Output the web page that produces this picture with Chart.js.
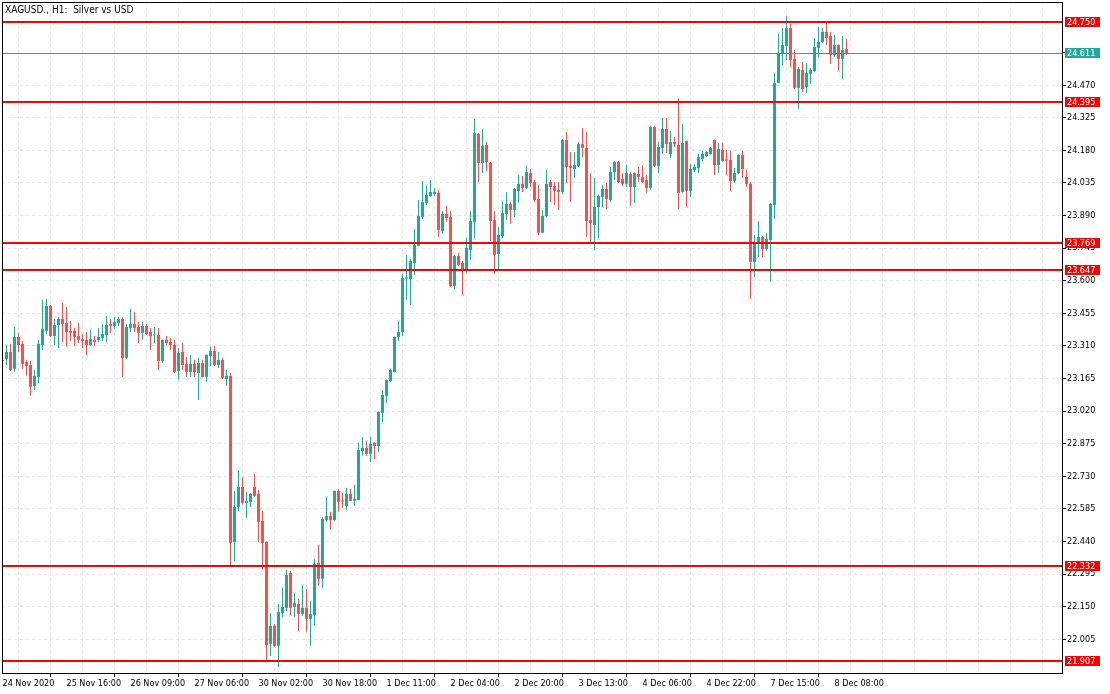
<!DOCTYPE html>
<html><head><meta charset="utf-8">
<script src="https://cdn.jsdelivr.net/npm/chart.js@4.4.1/dist/chart.umd.min.js"></script>
<style>html,body{margin:0;padding:0;background:#fff;overflow:hidden}canvas{display:block}</style>
</head><body>
<canvas id="c" width="1110" height="694"></canvas>
<script>
const chartTitle = "XAGUSD., H1:  Silver vs USD";
const timeLabels = ["24 Nov 2020","25 Nov 16:00","26 Nov 09:00","27 Nov 06:00","30 Nov 02:00","30 Nov 18:00","1 Dec 11:00","2 Dec 04:00","2 Dec 20:00","3 Dec 13:00","4 Dec 06:00","4 Dec 22:00","7 Dec 15:00","8 Dec 08:00"];
const yTickValues = [22.005,22.150,22.295,22.440,22.585,22.730,22.875,23.020,23.165,23.310,23.455,23.600,23.745,23.890,24.035,24.180,24.325,24.470,24.615];
const levels = [24.750,24.395,23.769,23.647,22.332,21.907];
const lastPrice = 24.611;

const opens = [23.245,23.252,23.283,23.208,23.350,23.319,23.239,23.225,23.132,23.172,
23.314,23.377,23.488,23.354,23.403,23.430,23.412,23.377,23.377,23.354,
23.341,23.337,23.314,23.337,23.337,23.346,23.359,23.408,23.399,23.412,
23.430,23.257,23.390,23.408,23.394,23.368,23.399,23.372,23.357,23.359,
23.243,23.337,23.328,23.314,23.199,23.283,23.230,23.194,23.230,23.190,
23.234,23.172,23.265,23.288,23.225,23.248,23.163,23.177,22.438,22.594,
22.683,22.612,22.616,22.683,22.652,22.532,22.438,21.985,22.065,21.976,
22.122,22.145,22.300,22.149,22.162,22.118,22.145,22.096,22.113,22.345,
22.274,22.536,22.554,22.536,22.665,22.623,22.598,22.652,22.621,22.625,
22.843,22.856,22.830,22.879,22.865,23.012,23.088,23.154,23.194,23.350,
23.372,23.610,23.608,23.679,23.755,23.884,23.946,23.977,23.986,23.991,
23.822,23.897,23.884,23.577,23.710,23.679,23.648,23.737,23.862,24.253,
24.124,24.204,24.124,23.870,23.719,23.799,23.897,23.942,23.915,23.999,
24.031,24.013,24.079,24.039,23.964,23.813,23.888,24.039,24.022,24.004,
23.995,24.226,24.111,24.097,24.111,24.208,24.191,23.870,23.848,23.928,
23.973,24.008,23.959,24.084,24.128,24.053,24.031,24.075,24.017,24.075,
24.062,24.048,24.013,24.284,24.111,24.191,24.275,24.164,24.217,24.204,
23.995,24.222,24.000,24.093,24.102,24.142,24.155,24.164,24.226,24.115,
24.182,24.137,24.137,24.044,24.079,24.160,24.062,24.031,23.684,23.768,
23.795,23.741,23.781,23.937,24.480,24.609,24.644,24.724,24.587,24.458,
24.538,24.462,24.520,24.533,24.636,24.662,24.707,24.689,24.604,24.649,
24.587,24.631];
const highs = [23.250,23.314,23.319,23.394,23.368,23.332,23.248,23.243,23.203,23.337,
23.515,23.519,23.492,23.430,23.439,23.501,23.483,23.421,23.390,23.412,
23.363,23.372,23.381,23.354,23.390,23.408,23.443,23.430,23.439,23.439,
23.439,23.408,23.475,23.461,23.417,23.417,23.408,23.390,23.394,23.390,
23.339,23.354,23.346,23.337,23.301,23.323,23.261,23.270,23.248,23.257,
23.248,23.272,23.306,23.310,23.283,23.257,23.203,23.190,22.665,22.758,
22.727,22.661,22.656,22.741,22.670,22.576,22.440,22.122,22.073,22.162,
22.234,22.314,22.309,22.211,22.185,22.247,22.229,22.176,22.363,22.425,
22.549,22.638,22.572,22.667,22.674,22.656,22.678,22.674,22.692,22.879,
22.905,22.887,22.905,22.883,23.018,23.114,23.161,23.208,23.352,23.421,
23.630,23.715,23.697,23.830,23.959,24.044,24.022,24.048,24.013,24.004,
23.910,23.933,23.910,23.715,23.724,23.688,23.790,23.910,24.320,24.257,
24.275,24.217,24.128,23.910,23.839,23.955,23.995,23.951,24.013,24.071,
24.066,24.111,24.097,24.048,24.026,23.915,24.093,24.048,24.039,24.039,
24.231,24.262,24.173,24.173,24.217,24.280,24.262,24.079,24.057,23.982,
24.026,24.035,24.106,24.133,24.133,24.079,24.115,24.084,24.081,24.106,
24.115,24.071,24.289,24.289,24.217,24.324,24.324,24.266,24.240,24.409,
24.297,24.224,24.120,24.120,24.164,24.177,24.177,24.195,24.228,24.213,
24.213,24.182,24.177,24.102,24.162,24.177,24.093,24.039,23.804,23.866,
23.799,23.813,23.946,24.524,24.698,24.724,24.778,24.742,24.627,24.551,
24.573,24.569,24.547,24.680,24.729,24.724,24.747,24.707,24.693,24.651,
24.689,24.676];
const lows = [23.238,23.225,23.198,23.195,23.283,23.208,23.177,23.088,23.114,23.145,
23.292,23.363,23.350,23.314,23.301,23.328,23.306,23.332,23.310,23.323,
23.301,23.270,23.310,23.310,23.328,23.332,23.328,23.368,23.386,23.399,
23.172,23.252,23.372,23.372,23.323,23.337,23.359,23.292,23.323,23.203,
23.234,23.314,23.292,23.190,23.159,23.203,23.172,23.172,23.172,23.070,
23.170,23.150,23.221,23.221,23.212,23.163,23.132,22.335,22.354,22.576,
22.603,22.545,22.594,22.638,22.438,22.318,21.904,21.931,21.971,21.882,
22.105,22.131,22.113,22.105,22.042,22.109,22.038,21.976,22.065,22.243,
22.234,22.527,22.492,22.532,22.572,22.589,22.581,22.620,22.598,22.623,
22.821,22.821,22.794,22.807,22.838,22.972,23.056,23.150,23.192,23.332,
23.354,23.515,23.492,23.626,23.753,23.875,23.937,23.973,23.977,23.795,
23.808,23.862,23.572,23.563,23.666,23.537,23.635,23.692,23.790,24.039,
24.079,24.088,23.777,23.630,23.648,23.790,23.870,23.853,23.884,23.946,
23.995,24.008,24.017,23.950,23.804,23.811,23.884,23.950,23.937,23.915,
23.986,24.035,23.950,24.057,24.106,24.151,23.795,23.773,23.737,23.790,
23.928,23.919,23.950,24.048,24.035,24.022,24.017,23.933,23.946,24.039,
24.035,23.991,24.004,24.106,24.079,24.164,24.168,24.146,24.195,23.919,
23.991,23.928,23.973,24.084,24.079,24.133,24.151,24.162,24.071,24.079,
24.128,24.071,23.999,24.035,24.075,24.057,24.017,23.519,23.617,23.706,
23.706,23.733,23.595,23.875,24.478,24.560,24.582,24.551,24.453,24.364,
24.440,24.435,24.475,24.529,24.595,24.658,24.649,24.564,24.595,24.533,
24.498,24.604];
const closes = [23.243,23.283,23.203,23.350,23.314,23.230,23.221,23.128,23.177,23.319,
23.386,23.488,23.354,23.403,23.430,23.408,23.372,23.368,23.350,23.337,
23.332,23.314,23.341,23.328,23.350,23.363,23.403,23.399,23.417,23.430,
23.257,23.394,23.408,23.390,23.368,23.399,23.363,23.354,23.359,23.243,
23.337,23.323,23.314,23.194,23.279,23.225,23.194,23.230,23.194,23.234,
23.172,23.270,23.288,23.225,23.248,23.168,23.177,22.434,22.594,22.683,
22.612,22.621,22.652,22.643,22.527,22.434,21.980,22.065,21.976,22.127,
22.149,22.291,22.145,22.167,22.118,22.145,22.096,22.118,22.340,22.274,
22.541,22.554,22.536,22.665,22.616,22.618,22.652,22.621,22.630,22.847,
22.856,22.830,22.874,22.865,23.016,23.092,23.159,23.203,23.350,23.372,
23.612,23.612,23.688,23.759,23.888,23.950,23.982,23.995,23.995,23.826,
23.897,23.879,23.577,23.710,23.670,23.648,23.746,23.866,24.257,24.124,
24.200,24.128,23.866,23.715,23.804,23.902,23.942,23.915,24.008,24.031,
24.013,24.084,24.035,23.959,23.813,23.888,24.031,24.017,24.000,23.995,
24.226,24.106,24.102,24.115,24.208,24.191,23.866,23.857,23.928,23.977,
24.008,23.964,24.084,24.128,24.039,24.031,24.079,24.017,24.079,24.062,
24.039,24.013,24.284,24.111,24.195,24.275,24.208,24.217,24.208,23.991,
24.213,24.000,24.097,24.106,24.151,24.164,24.173,24.191,24.115,24.186,
24.133,24.135,24.044,24.079,24.160,24.097,24.031,23.684,23.768,23.795,
23.741,23.786,23.942,24.480,24.609,24.649,24.724,24.582,24.458,24.542,
24.453,24.524,24.538,24.640,24.662,24.707,24.680,24.604,24.649,24.587,
24.627,24.611];

const UP = '#26a69a', DOWN = '#ef5350', LEVEL = '#ff0000', GRID = '#e4e4e4';
const FAMILY = "'DejaVu Sans Condensed', 'DejaVu Sans', sans-serif";
const FONT = {family: FAMILY, size: 9};
const FONT_CSS = "9px " + FAMILY;
const TITLE_CSS = "10px " + FAMILY;
const BAR_SLOT = 4; // px per candle
const PLOT_W = 1060;
const candleColor = i => closes[i] >= opens[i] ? UP : DOWN;

const bodyData = opens.map((o, i) => ({x: i, y: [o, closes[i]]}));
const wickData = lows.map((l, i) => ({x: i, y: [l, highs[i]]}));

const overlay = {
  id: 'overlay',
  afterDatasetsDraw(chart) {
    const {ctx, chartArea: a, scales: {y}} = chart;
    ctx.save();
    ctx.fillStyle = LEVEL;
    levels.forEach(v => {
      const py = Math.round(y.getPixelForValue(v));
      ctx.fillRect(a.left, py - 1, a.right - a.left, 2);
    });
    ctx.fillStyle = UP;
    ctx.fillRect(a.left, Math.floor(y.getPixelForValue(lastPrice)), a.right - a.left, 1);
    ctx.restore();
  },
  afterDraw(chart) {
    const {ctx, chartArea: a, scales: {y}} = chart;
    ctx.save();
    ctx.fillStyle = '#000';
    ctx.fillRect(a.left, a.top, 1, a.bottom - a.top);
    ctx.fillRect(a.left, a.top, a.right - a.left, 1);
    ctx.font = FONT_CSS;
    ctx.textBaseline = 'middle';
    ctx.textAlign = 'left';
    const tag = (v, col) => {
      const py = Math.round(y.getPixelForValue(v));
      ctx.fillStyle = col;
      ctx.fillRect(a.right + 3, py - 5, 35, 10);
      ctx.fillStyle = '#fff';
      ctx.fillText(v.toFixed(3), a.right + 5, py + 0.5);
    };
    levels.forEach(v => tag(v, LEVEL));
    tag(lastPrice, UP);
    ctx.fillStyle = '#000';
    ctx.font = TITLE_CSS;
    ctx.textBaseline = 'alphabetic';
    ctx.fillText(chartTitle, a.left + 3, 13);
    ctx.restore();
  }
};

new Chart(document.getElementById('c'), {
  type: 'bar',
  data: {
    datasets: [
      {data: bodyData, barThickness: 3, minBarLength: 1, inflateAmount: 0, borderWidth: 0,
       backgroundColor: c => candleColor(c.dataIndex), grouped: false},
      {data: wickData, barThickness: 1, inflateAmount: 0, borderWidth: 0,
       backgroundColor: c => candleColor(c.dataIndex), grouped: false}
    ]
  },
  options: {
    responsive: false, animation: false, devicePixelRatio: 1,
    layout: {padding: {left: 2, top: 2, right: 0, bottom: 0}},
    plugins: {legend: {display: false}, tooltip: {enabled: false}, title: {display: false}},
    scales: {
      x: {
        type: 'linear', offset: false,
        min: -0.125, max: -0.125 + PLOT_W / BAR_SLOT,
        afterBuildTicks: s => { const t = []; for (let v = 0; v <= s.max; v += 8) t.push({value: v}); s.ticks = t; },
        afterFit: s => { s.height = 21; s.paddingLeft = 0; s.paddingRight = 0; s.paddingTop = 0; s.paddingBottom = 0; },
        grid: {color: GRID, lineWidth: 1, drawTicks: true, tickLength: 4,
               tickColor: c => (c.tick && c.tick.value % 16 === 0 && c.tick.value / 16 < timeLabels.length) ? '#000' : 'rgba(0,0,0,0)'},
        border: {display: true, color: '#000', width: 1, dash: [3, 3]},
        ticks: {autoSkip: false, maxRotation: 0, minRotation: 0, align: 'start', padding: 1, color: '#000', font: FONT,
                callback: v => (v % 16 === 0 && v / 16 < timeLabels.length) ? timeLabels[v / 16] : ''}
      },
      y: {
        type: 'linear', position: 'right', min: 21.855, max: 24.84,
        afterBuildTicks: s => { s.ticks = yTickValues.map(v => ({value: v})); },
        afterFit: s => { s.width = 48; s.paddingLeft = 0; s.paddingRight = 0; s.paddingTop = 0; s.paddingBottom = 0; },
        grid: {color: c => (c.tick && Math.abs(c.tick.value - lastPrice) < 0.01) ? 'rgba(0,0,0,0)' : GRID,
               lineWidth: 1, drawTicks: true, tickLength: 4, tickColor: '#000'},
        border: {display: true, color: '#000', width: 1, dash: [3, 3]},
        ticks: {padding: 1, color: '#000', font: FONT, callback: v => Number(v).toFixed(3)}
      }
    }
  },
  plugins: [overlay]
});
</script>
</body></html>
